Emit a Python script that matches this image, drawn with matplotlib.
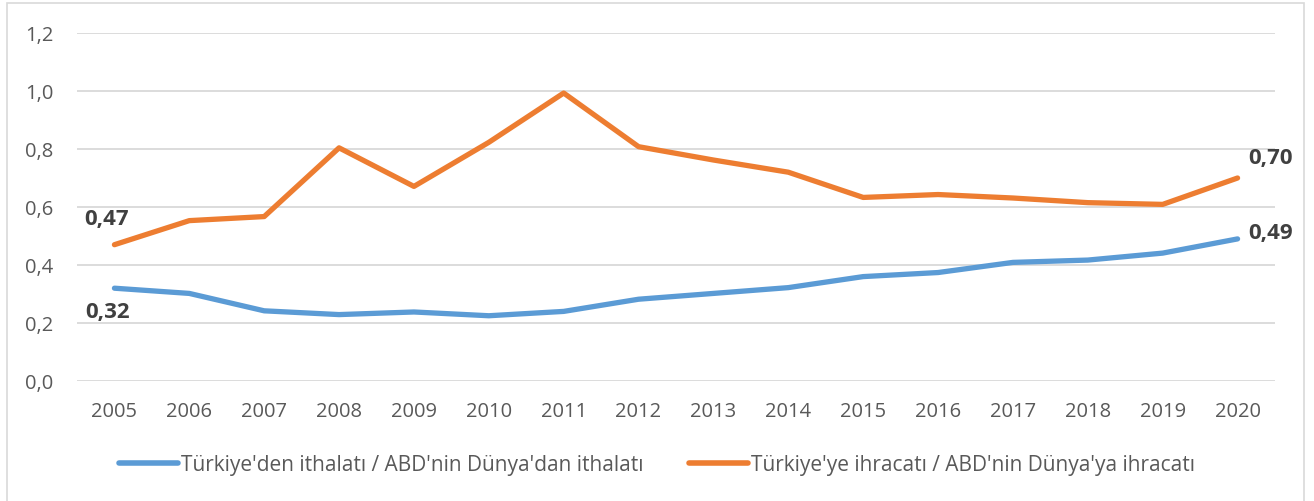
import matplotlib
matplotlib.use("Agg")
import matplotlib.pyplot as plt
from matplotlib.patches import Rectangle

plt.rcParams['font.family'] = ['Open Sans', 'DejaVu Sans']

years = ["2005", "2006", "2007", "2008", "2009", "2010", "2011", "2012",
         "2013", "2014", "2015", "2016", "2017", "2018", "2019", "2020"]
imports_ratio = [0.32, 0.302, 0.242, 0.229, 0.238, 0.225, 0.240, 0.282,
                 0.302, 0.322, 0.360, 0.374, 0.409, 0.417, 0.441, 0.49]
exports_ratio = [0.47, 0.553, 0.567, 0.804, 0.671, 0.823, 0.993, 0.808,
                 0.762, 0.720, 0.633, 0.643, 0.631, 0.615, 0.609, 0.70]
label_imports = "Türkiye'den ithalatı / ABD'nin Dünya'dan ithalatı"
label_exports = "Türkiye'ye ihracatı / ABD'nin Dünya'ya ihracatı"
yticks = [0.0, 0.2, 0.4, 0.6, 0.8, 1.0, 1.2]
ytick_labels = ["0,0", "0,2", "0,4", "0,6", "0,8", "1,0", "1,2"]

W, H = 1314, 501
fig = plt.figure(figsize=(W / 100, H / 100), dpi=100)
ax = fig.add_axes([77 / W, (H - 381) / H, (1275 - 77) / W, (381 - 33) / H])

# outer frame
fig.patches.append(Rectangle((7 / W, -0.01), (1304 - 7) / W, (H - 3) / H + 0.01,
                             transform=fig.transFigure, fill=False,
                             edgecolor='#D9D9D9', lw=1.2))

x = list(range(len(years)))
blue = '#5B9BD5'
orange = '#ED7D31'
ax.plot(x, imports_ratio, color=blue, lw=3.8, solid_capstyle='round',
        solid_joinstyle='round', label=label_imports, zorder=3)
ax.plot(x, exports_ratio, color=orange, lw=3.8, solid_capstyle='round',
        solid_joinstyle='round', label=label_exports, zorder=3)

ax.set_xlim(-0.5, len(years) - 0.5)
ax.set_ylim(0, 1.2)
ax.set_yticks(yticks)
ax.set_yticklabels(ytick_labels)
ax.set_xticks(x)
ax.set_xticklabels(years)
ax.grid(axis='y', color='#D9D9D9', lw=1.3)
ax.set_axisbelow(True)
for s in ax.spines.values():
    s.set_visible(False)
ax.tick_params(axis='both', length=0, colors='#595959', labelsize=14.5)
ax.tick_params(axis='y', pad=17)
ax.tick_params(axis='x', pad=15)

lab_kw = dict(textcoords='offset points', ha='center', va='center',
              fontsize=16, fontweight='bold', color='#404040')
ax.annotate("0,47", (0, exports_ratio[0]), xytext=(-5.8, 17.8), **lab_kw)
ax.annotate("0,32", (0, imports_ratio[0]), xytext=(-5, -17.3), **lab_kw)
ax.annotate("0,70", (15, exports_ratio[-1]), xytext=(23.8, 13.7), **lab_kw)
ax.annotate("0,49", (15, imports_ratio[-1]), xytext=(23.8, 3.6), **lab_kw)

leg = fig.legend(loc='center', bbox_to_anchor=(0.5, (H - 465) / H), ncol=2,
                 frameon=False, fontsize=15, handlelength=2.8,
                 handletextpad=0.15, columnspacing=2.2)
for t in leg.get_texts():
    t.set_color('#595959')
for l in leg.get_lines():
    l.set_linewidth(4)

fig.savefig("out.png", dpi=100)
